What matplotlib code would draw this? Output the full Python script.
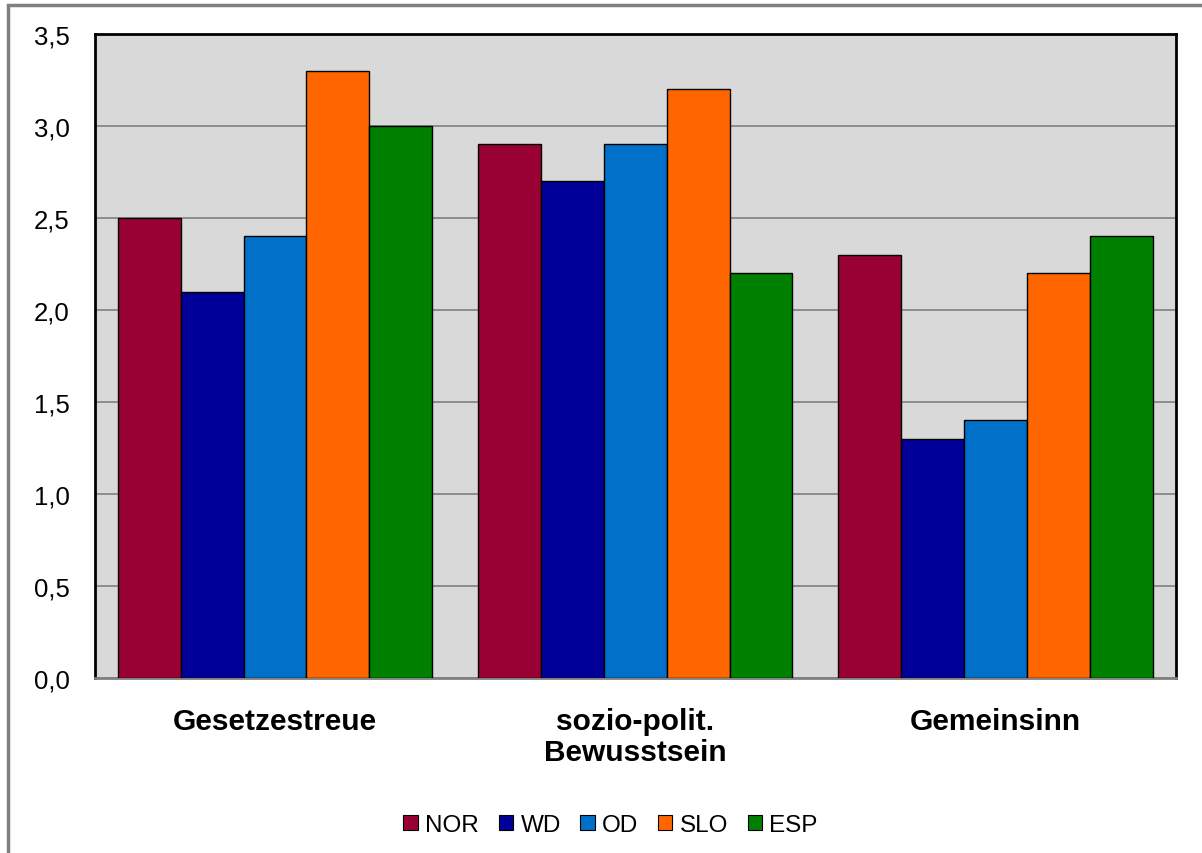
import matplotlib.pyplot as plt
import numpy as np
from matplotlib.patches import Rectangle

plt.rcParams['font.family'] = ['Liberation Sans', 'DejaVu Sans']

categories = ['Gesetzestreue', 'sozio-polit.\nBewusstsein', 'Gemeinsinn']
series = ['NOR', 'WD', 'OD', 'SLO', 'ESP']
colors = ['#990033', '#000099', '#0070C8', '#FF6600', '#008000']
values = {
    'NOR': [2.5, 2.9, 2.3],
    'WD': [2.1, 2.7, 1.3],
    'OD': [2.4, 2.9, 1.4],
    'SLO': [3.3, 3.2, 2.2],
    'ESP': [3.0, 2.2, 2.4],
}
yticks = [0.0, 0.5, 1.0, 1.5, 2.0, 2.5, 3.0, 3.5]

fig = plt.figure(figsize=(12.02, 8.54), dpi=100)
ax = fig.add_axes([0.079, 0.205, 0.899, 0.754])
ax.set_facecolor('#D9D9D9')

x = np.arange(len(categories))
width = 0.1745
for i, name in enumerate(series):
    ax.bar(x + (i - 2) * width, values[name], width, color=colors[i],
           edgecolor='black', linewidth=1.0, label=name, zorder=3)

ax.set_xlim(-0.5, 2.5)
ax.set_ylim(0, 3.5)
ax.set_yticks(yticks)
ax.set_yticklabels([f'{v:.1f}'.replace('.', ',') for v in yticks], fontsize=18.5)
ax.set_xticks(x)
ax.set_xticklabels(categories, fontsize=21.5, fontweight='bold', linespacing=1.13)
ax.tick_params(axis='y', length=0, pad=18)
ax.tick_params(axis='x', length=0, pad=21)
ax.yaxis.grid(True, color='#808080', linewidth=1.2, zorder=0)
ax.set_axisbelow(True)

for side in ['left', 'top', 'right']:
    ax.spines[side].set_color('black')
    ax.spines[side].set_linewidth(2)
ax.spines['bottom'].set_color('#808080')
ax.spines['bottom'].set_linewidth(2)

leg = fig.legend(loc='center', bbox_to_anchor=(0.508, 0.033), ncol=5, frameon=False,
                 fontsize=17.5, handlelength=0.6, handleheight=0.6, handletextpad=0.3,
                 columnspacing=0.8)
for h in leg.legend_handles:
    h.set_linewidth(0.8)

# outer frame
fig.patches.append(Rectangle((8 / 1202, -0.05), 1.1, 1.05 - 6 / 854, transform=fig.transFigure,
                             fill=False, edgecolor='#808080', linewidth=2.5))

fig.savefig('out.png', dpi=100)
